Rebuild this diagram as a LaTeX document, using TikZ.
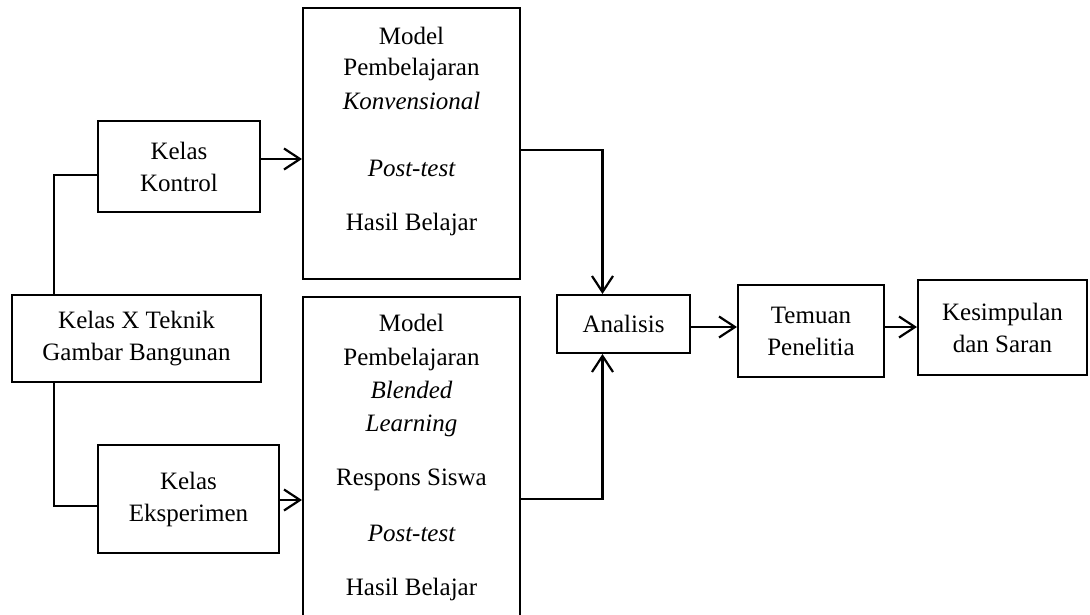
\documentclass[tikz,border=0pt]{standalone}
\usepackage{fontspec}
\setmainfont{Liberation Serif}
\usetikzlibrary{arrows.meta}
\begin{document}
\begin{tikzpicture}[x=1pt,y=-1pt,
  box/.style={draw,line width=2pt,inner sep=0pt,align=center,
    font=\fontsize{25}{32}\selectfont},
  txt/.style={anchor=base,inner sep=0pt,font=\fontsize{25}{32}\selectfont},
  link/.style={line width=2.2pt},
  arr/.style={link,-{Straight Barb[length=16pt,width=21pt]}}]
\useasboundingbox[fill=white] (0,0) rectangle (1090,615);

% boxes
\node[box,minimum width=249pt,minimum height=87pt] (kx) at (136.5,338.5) {Kelas X Teknik\\Gambar Bangunan};
\node[box,minimum width=162pt,minimum height=91pt] (kk) at (179,166.5) {Kelas\\Kontrol};
\node[box,minimum width=181pt,minimum height=108pt] (ke) at (188.5,499) {Kelas\\Eksperimen};
\node[box,minimum width=217pt,minimum height=271pt] (mk) at (411.5,143.5) {};
\node[box,minimum width=217pt,minimum height=326pt] (mb) at (411.5,460) {};
\node[box,minimum width=133pt,minimum height=58pt] (an) at (623.5,324) {Analisis};
\node[box,minimum width=146pt,minimum height=92pt] (tp) at (811,331) {Temuan\\Penelitia};
\node[box,minimum width=169pt,minimum height=95pt] (ks) at (1002.5,327.5) {Kesimpulan\\dan Saran};

% text of the conventional-model box
\node[txt] (m1) at (411.5,45) {Model};
\node[txt] (m2) at (411.5,76) {Pembelajaran};
\node[txt] (m3) at (411.5,110) {\itshape Konvensional};
\node[txt] (m4) at (411.5,176) {\itshape Post-test};
\node[txt] (m5) at (411.5,230) {Hasil Belajar};

% text of the blended-learning box
\node[txt] (b1) at (411.5,331) {Model};
\node[txt] (b2) at (411.5,365) {Pembelajaran};
\node[txt] (b3) at (411.5,398) {\itshape Blended};
\node[txt] (b4) at (411.5,431) {\itshape Learning};
\node[txt] (b5) at (411.5,485) {Respons Siswa};
\node[txt] (b6) at (411.5,541) {\itshape Post-test};
\node[txt] (b7) at (411.5,595) {Hasil Belajar};

% connectors
\coordinate (lx) at (54,0);
\draw[link] (kx.north -| lx) |- ([yshift=-8.5pt]kk.west);
\draw[link] (kx.south -| lx) |- ([yshift=-7pt]ke.west);
\draw[arr] ([yshift=7.5pt]kk.east) -- ([yshift=7.5pt]kk.east -| mk.west);
\draw[arr] ([yshift=-1pt]ke.east) -- ([yshift=-1pt]ke.east -| mb.west);
\draw[arr] ([yshift=-6.5pt]mk.east) -| ([xshift=-21pt]an.north);
\draw[arr] ([yshift=-39pt]mb.east) -| ([xshift=-21pt]an.south);
\draw[arr] ([yshift=-3pt]an.east) -- ([yshift=-3pt]an.east -| tp.west);
\draw[arr] ([yshift=4pt]tp.east) -- ([yshift=4pt]tp.east -| ks.west);
\end{tikzpicture}
\end{document}
